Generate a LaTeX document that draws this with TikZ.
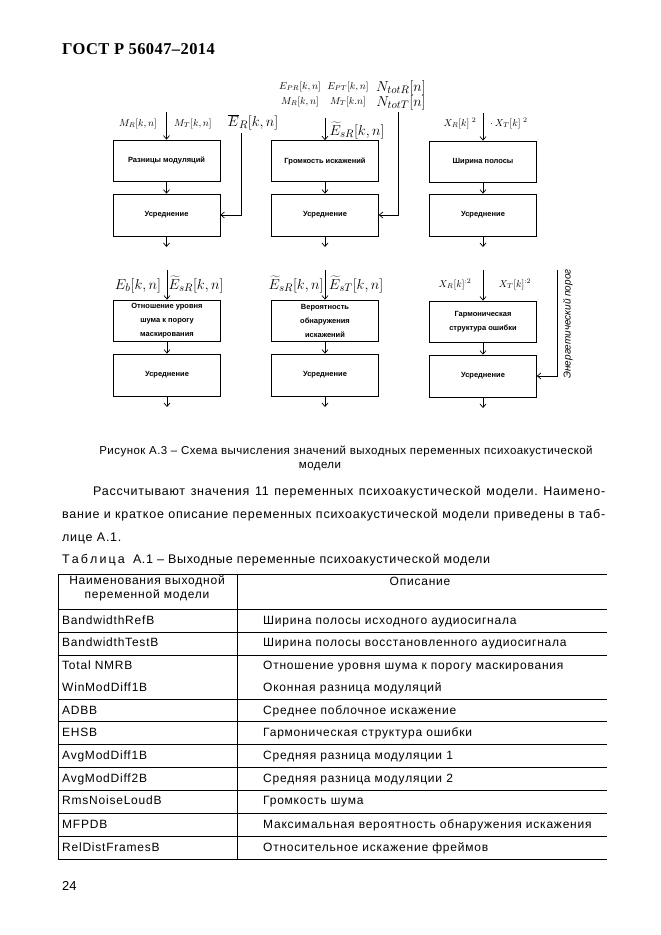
\documentclass[tikz,border=0pt]{standalone}
\usepackage{fontspec}
\setmainfont{Liberation Serif}
\setsansfont{Liberation Sans}
\newfontfamily\arial{Liberation Sans}
\newfontfamily\arialcap[LetterSpace=4]{Liberation Sans}
\newfontfamily\arialbody[LetterSpace=6]{Liberation Sans}
\newfontfamily\arialtitle[LetterSpace=5]{Liberation Sans}
\newfontfamily\arialcell[LetterSpace=6.5]{Liberation Sans}
\newfontfamily\timesfnt[LetterSpace=2.5]{Liberation Serif}
\usetikzlibrary{arrows.meta}
\begin{document}
\frenchspacing
\begin{tikzpicture}[x=1pt,y=-1pt,
  box/.style={draw, line width=0.7pt, minimum width=107pt, minimum height=41pt, inner sep=0pt,
    font=\arial\bfseries\fontsize{7.5}{14}\selectfont, align=center},
  arr/.style={-{Straight Barb[length=3.5pt,width=6pt]}, line width=0.7pt},
  lab/.style={inner sep=0pt, anchor=base, font=\fontsize{10}{12}\selectfont},
  big/.style={inner sep=0pt, anchor=base, font=\fontsize{15}{17}\selectfont},
  txt/.style={inner sep=0pt, anchor=base west, font=\arialbody\fontsize{12.5}{15}\selectfont},
  cell/.style={inner sep=0pt, anchor=base west, font=\arialcell\fontsize{12}{14}\selectfont},
  tline/.style={line width=0.6pt}]
\useasboundingbox (0,0) rectangle (661,935);
\fill[white] (0,0) rectangle (661,935);

% header
\node[inner sep=0pt, anchor=base west, font=\timesfnt\bfseries\fontsize{16.5}{18}\selectfont] (hdr) at (62,54) {ГОСТ Р 56047–2014};

% ---- row 1 boxes
\node[box] (a1) at (166.5,160.5) {Разницы модуляций};
\node[box, minimum height=42pt] (a2) at (166.5,215) {Усреднение};
\node[box] (b1) at (325,161) {Громкость искажений};
\node[box, minimum height=42pt] (b2) at (325,215) {Усреднение};
\node[box] (c1) at (483,161.5) {Ширина полосы};
\node[box, minimum height=42pt] (c2) at (483,215) {Усреднение};

% ---- row 2 boxes
\node[box] (d1) at (167,320.5) {Отношение уровня\\шума к порогу\\маскирования};
\node[box, minimum height=42pt] (d2) at (167,375) {Усреднение};
\node[box] (e1) at (325,320.5) {Вероятность\\обнаружения\\искажений};
\node[box, minimum height=42pt] (e2) at (325,375) {Усреднение};
\node[box] (f1) at (483,321.5) {Гармоническая\\структура ошибки};
\node[box, minimum height=42pt] (f2) at (483,376) {Усреднение};

% ---- row 1 inputs
\coordinate (a0) at (166.5,112);
\draw[arr] (a0) -- (a1);
\draw[arr] (a1) -- (a2);
\coordinate (aout) at (166.5,247);
\draw[arr] (a2) -- (aout);
\node[lab] (lmr1) at (138,126) {$M_R[k,n]$};
\node[lab] (lmt1) at (193,126) {$M_T[k,n]$};
\node[big] (ler) at (253,126) {$\overline{E}_R[k,n]$};
\coordinate (ae) at (241,133);
\draw[arr] (ae) |- (a2.east);

\coordinate (b0) at (325,118);
\draw[arr] (b0) -- (b1);
\draw[arr] (b1) -- (b2);
\coordinate (bout) at (325,247);
\draw[arr] (b2) -- (bout);
\node[lab] (lepr) at (300,89) {$E_{PR}[k,n]$};
\node[lab] (lept) at (348,89) {$E_{PT}[k,n]$};
\node[big] (lntr) at (401,91) {$N_{totR}[n]$};
\node[lab] (lmr2) at (300,104) {$M_R[k,n]$};
\node[lab] (lmt2) at (348,104) {$M_T[k.n]$};
\node[big] (lntt) at (401,106) {$N_{totT}[n]$};
\node[big] (lesr) at (357,135) {$\widetilde{E}_{sR}[k,n]$};
\coordinate (bn) at (398,112);
\draw[arr] (bn) |- (b2.east);

\coordinate (c0) at (483,113);
\draw[arr] (c0) -- (c1);
\draw[arr] (c1) -- (c2);
\coordinate (cout) at (483,247);
\draw[arr] (c2) -- (cout);
\node[lab] (lxr1) at (460,126) {$X_R[k]\ ^2$};
\node[lab] (lxt1) at (509,126) {$\cdot\,X_T[k]\ ^2$};

% ---- row 2 inputs
\coordinate (d0) at (167,270);
\draw[arr] (d0) -- (d1);
\draw[arr] (d1) -- (d2);
\coordinate (dout) at (167,407);
\draw[arr] (d2) -- (dout);
\node[big] (leb) at (138,289) {$E_b[k,n]$};
\node[big] (lesr2) at (196,289) {$\widetilde{E}_{sR}[k,n]$};

\coordinate (e0) at (325,270);
\draw[arr] (e0) -- (e1);
\draw[arr] (e1) -- (e2);
\coordinate (eout) at (325,407);
\draw[arr] (e2) -- (eout);
\node[big] (lesr3) at (296,289) {$\widetilde{E}_{sR}[k,n]$};
\node[big] (lest3) at (356,289) {$\widetilde{E}_{sT}[k,n]$};

\coordinate (f0) at (483,270);
\draw[arr] (f0) -- (f1);
\draw[arr] (f1) -- (f2);
\coordinate (fout) at (483,408);
\draw[arr] (f2) -- (fout);
\node[lab] (lxr2) at (455,287) {$X_R[k]^{:2}$};
\node[lab] (lxt2) at (515,287) {$X_T[k]^{:2}$};
\coordinate (en) at (557,270);
\draw[arr] (en) |- (f2.east);
\node[inner sep=0pt, rotate=90, font=\arial\itshape\fontsize{10}{12}\selectfont] (lthr) at (568,324) {Энергетический порог};

% ---- caption
\node[inner sep=0pt, anchor=base, font=\arialcap\fontsize{11.5}{13}\selectfont] (cap1) at (346,454) {Рисунок А.3 – Схема вычисления значений выходных переменных психоакустической};
\node[inner sep=0pt, anchor=base, font=\arialcap\fontsize{11.5}{13}\selectfont] (cap2) at (320,468) {модели};

% ---- body text
\node[txt] (p1) at (93,495) {\makebox[512pt][s]{Рассчитывают значения 11 переменных психоакустической модели. Наимено-}};
\node[txt] (p2) at (62,518) {\makebox[543pt][s]{вание и краткое описание переменных психоакустической модели приведены в таб-}};
\node[txt] (p3) at (62,541) {лице А.1.};
\node[txt, font=\arialtitle\fontsize{12.5}{15}\selectfont] (p4) at (62,563) {Т\,а\,б\,л\,и\,ц\,а\ \ А.1 – Выходные переменные психоакустической модели};

% ---- table
\draw[tline] (58,574) -- (607,574);
\foreach \yy in {609,632,655,699,721,744,767,790,813,836,859} \draw[tline] (58,\yy) -- (607,\yy);
\draw[tline] (58,574) -- (58,859);
\draw[tline] (237,574) -- (237,859);

\node[inner sep=0pt, align=center, font=\arialcell\fontsize{12}{14}\selectfont] (th1) at (147,588) {Наименования выходной\\переменной модели};
\node[cell, anchor=base] (th2) at (420,585) {Описание};

\node[cell] (n1) at (62,624) {BandwidthRefB};
\node[cell] (n2) at (62,646) {BandwidthTestB};
\node[cell] (n3) at (62,669) {Total NMRB};
\node[cell] (n4) at (62,691) {WinModDiff1B};
\node[cell] (n5) at (62,714) {ADBB};
\node[cell] (n6) at (62,736) {EHSB};
\node[cell] (n7) at (62,759) {AvgModDiff1B};
\node[cell] (n8) at (62,782) {AvgModDiff2B};
\node[cell] (n9) at (62,804) {RmsNoiseLoudB};
\node[cell] (n10) at (62,828) {MFPDB};
\node[cell] (n11) at (62,851) {RelDistFramesB};

\node[cell] (d1t) at (263,624) {Ширина полосы исходного аудиосигнала};
\node[cell] (d2t) at (263,646) {Ширина полосы восстановленного аудиосигнала};
\node[cell] (d3t) at (263,669) {Отношение уровня шума к порогу маскирования};
\node[cell] (d4t) at (263,691) {Оконная разница модуляций};
\node[cell] (d5t) at (263,714) {Среднее поблочное искажение};
\node[cell] (d6t) at (263,736) {Гармоническая структура ошибки};
\node[cell] (d7t) at (263,759) {Средняя разница модуляции 1};
\node[cell] (d8t) at (263,782) {Средняя разница модуляции 2};
\node[cell] (d9t) at (263,804) {Громкость шума};
\node[cell] (d10t) at (263,828) {Максимальная вероятность обнаружения искажения};
\node[cell] (d11t) at (263,851) {Относительное искажение фреймов};

% page number
\node[inner sep=0pt, anchor=base west, font=\arial\fontsize{13}{15}\selectfont] (pg) at (62,890) {24};
\end{tikzpicture}
\end{document}
